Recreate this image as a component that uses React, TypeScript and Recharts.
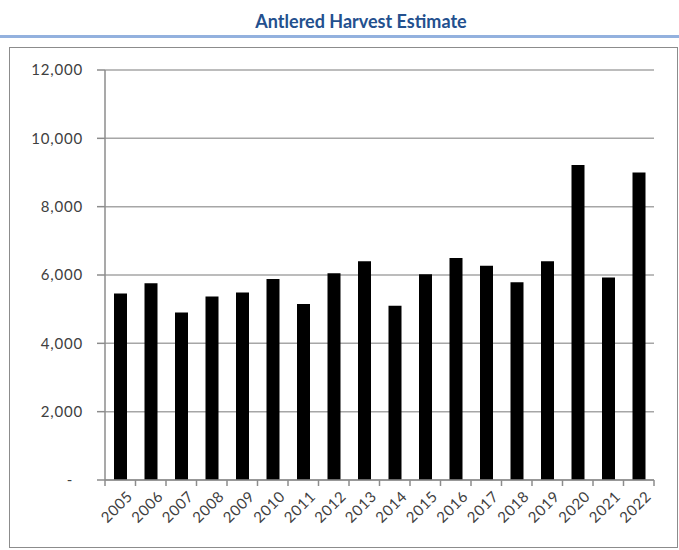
import { BarChart, Bar, XAxis, YAxis, CartesianGrid } from 'recharts';

const years = [
  '2005', '2006', '2007', '2008', '2009', '2010', '2011', '2012', '2013',
  '2014', '2015', '2016', '2017', '2018', '2019', '2020', '2021', '2022',
];
const harvest = [
  5460, 5760, 4900, 5370, 5490, 5880, 5150, 6050, 6400,
  5100, 6020, 6500, 6270, 5790, 6400, 9220, 5930, 9000,
];
const yTicks = [0, 2000, 4000, 6000, 8000, 10000, 12000];

const data = years.map((year, i) => ({ year, harvest: harvest[i] }));

const FONT = 'Lato, "Open Sans", sans-serif';
const TEXT = '#404040';
const GRID = '#a6a6a6';
const AXIS = '#8c8c8c';
const X_TICK = 6;

function YTick({ x, y, payload }: any) {
  const zero = payload.value === 0;
  return (
    <text
      x={zero ? x - 10 : x}
      y={y}
      dy="0.35em"
      textAnchor="end"
      fill={TEXT}
      fontSize={15}
      fontFamily={FONT}
      letterSpacing={0.8}
    >
      {zero ? '-' : payload.value.toLocaleString('en-US')}
    </text>
  );
}

// Excel draws the category tick marks between the bars, not under them,
// so the marks are drawn here at the band edges and the axis' own are hidden
function XTick({ x, y, payload, index, width, visibleTicksCount }: any) {
  const half = width / visibleTicksCount / 2;
  const last = index === visibleTicksCount - 1;
  return (
    <g>
      <line x1={x - half} x2={x - half} y1={y - X_TICK} y2={y} stroke={AXIS} strokeWidth={1.5} />
      {last && <line x1={x + half} x2={x + half} y1={y - X_TICK} y2={y} stroke={AXIS} strokeWidth={1.5} />}
      <g transform={`translate(${x + 6},${y + 4})`}>
        <text
          x={0}
          y={0}
          dy="0.7em"
          textAnchor="end"
          fill={TEXT}
          fontSize={15}
          fontFamily={FONT}
          letterSpacing={0.6}
          transform="rotate(-45)"
        >
          {payload.value}
        </text>
      </g>
    </g>
  );
}

export default function App() {
  return (
    <div style={{ position: 'absolute', left: 0, top: 0, width: 679, height: 550, background: '#fff' }}>
      <div
        style={{
          position: 'absolute',
          left: 0,
          top: 10,
          width: 722,
          textAlign: 'center',
          fontFamily: FONT,
          fontWeight: 700,
          fontSize: 18,
          color: '#23508e',
          lineHeight: '22px',
        }}
      >
        Antlered Harvest Estimate
      </div>
      <div style={{ position: 'absolute', left: 0, top: 35, width: 679, height: 3, background: '#93b1de' }} />
      <div
        style={{
          position: 'absolute',
          left: 9,
          top: 47,
          width: 669,
          height: 501,
          border: '1px solid #8c8c8c',
          boxSizing: 'border-box',
        }}
      />
      <div style={{ position: 'absolute', left: 10, top: 48 }}>
        <BarChart
          width={668}
          height={500}
          data={data}
          margin={{ top: 22, right: 24, left: 0, bottom: 0 }}
        >
          <CartesianGrid vertical={false} stroke={GRID} strokeWidth={1.5} />
          <XAxis
            dataKey="year"
            interval={0}
            height={68}
            tickSize={X_TICK}
            tickMargin={0}
            tickLine={{ stroke: 'none' }}
            axisLine={{ stroke: AXIS, strokeWidth: 1.5 }}
            tick={<XTick />}
          />
          <YAxis
            width={95}
            domain={[0, 12000]}
            ticks={yTicks}
            axisLine={{ stroke: AXIS, strokeWidth: 1.5 }}
            tickLine={{ stroke: AXIS, strokeWidth: 1.5 }}
            tickSize={8}
            tickMargin={14}
            tick={<YTick />}
          />
          <Bar dataKey="harvest" fill="#000" barSize={13} isAnimationActive={false} />
        </BarChart>
      </div>
    </div>
  );
}
